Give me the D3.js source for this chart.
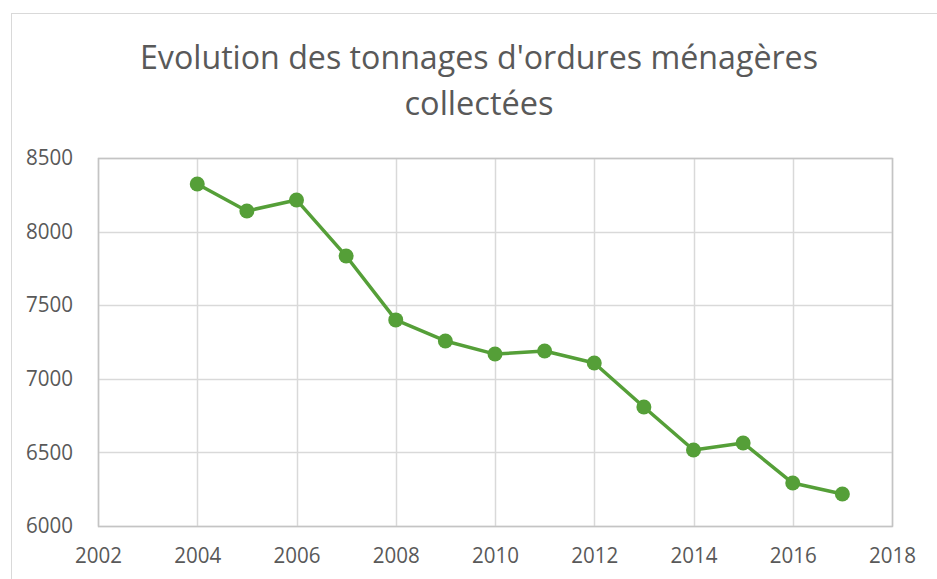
<!DOCTYPE html>
<html>
<head>
<meta charset="utf-8">
<script src="https://cdn.jsdelivr.net/npm/d3@7"></script>
<style>
body { margin: 0; background: #fff; }
text { font-family: "Open Sans", "DejaVu Sans", sans-serif; fill: #595959; }
</style>
</head>
<body>
<svg id="chart" width="937" height="579"></svg>
<script>
var years = [2004, 2005, 2006, 2007, 2008, 2009, 2010, 2011, 2012, 2013, 2014, 2015, 2016, 2017];
var tonnages = [8323, 8140, 8215, 7834, 7400, 7257, 7168, 7189, 7107, 6808, 6516, 6564, 6292, 6217];
var xTicks = [2002, 2004, 2006, 2008, 2010, 2012, 2014, 2016, 2018];
var yTicks = [6000, 6500, 7000, 7500, 8000, 8500];
var titleLines = ["Evolution des tonnages d'ordures ménagères", "collectées"];

var svg = d3.select('#chart');
var plot = {left: 98, top: 158, right: 892, bottom: 526};
var green = '#559f38';

// outer chart frame
svg.append('rect')
	.attr('x', 11.5).attr('y', 13.5)
	.attr('width', 940).attr('height', 580)
	.attr('fill', 'none').attr('stroke', '#d9d9d9');

var x = d3.scaleLinear().domain([2002, 2018]).range([plot.left, plot.right]);
var y = d3.scaleLinear().domain([6000, 8500]).range([plot.bottom, plot.top]);

// gridlines
var grid = svg.append('g').attr('class', 'grid');
grid.selectAll('line.h')
		.data(yTicks)
	.enter()
		.append('line')
		.attr('x1', plot.left).attr('x2', plot.right)
		.attr('y1', function(d) { return Math.round(y(d)) + 0.5; })
		.attr('y2', function(d) { return Math.round(y(d)) + 0.5; })
		.attr('stroke', '#d9d9d9').attr('stroke-width', 1.5);
grid.selectAll('line.v')
		.data(xTicks)
	.enter()
		.append('line')
		.attr('y1', plot.top).attr('y2', plot.bottom)
		.attr('x1', function(d) { return Math.round(x(d)) + 0.5; })
		.attr('x2', function(d) { return Math.round(x(d)) + 0.5; })
		.attr('stroke', '#d9d9d9').attr('stroke-width', 1.5);

// plot area frame
svg.append('rect')
	.attr('x', plot.left + 0.5).attr('y', plot.top + 0.5)
	.attr('width', plot.right - plot.left).attr('height', plot.bottom - plot.top)
	.attr('fill', 'none').attr('stroke', '#c4c4c4').attr('stroke-width', 1.5);

// axes (labels only)
var yAxis = d3.axisLeft(y).tickValues(yTicks).tickSize(0).tickPadding(25).tickFormat(d3.format('d'));
var xAxis = d3.axisBottom(x).tickValues(xTicks).tickSize(0).tickPadding(22).tickFormat(d3.format('d'));

var gy = svg.append('g').attr('transform', 'translate(' + plot.left + ',0)').call(yAxis);
var gx = svg.append('g').attr('transform', 'translate(0,' + plot.bottom + ')').call(xAxis);
[gx, gy].forEach(function(g) {
	g.select('.domain').remove();
	g.selectAll('text')
		.attr('font-family', '"Open Sans", sans-serif')
		.attr('font-size', 21)
		.attr('fill', '#595959')
		.attr('textLength', 47)
		.attr('lengthAdjust', 'spacingAndGlyphs');
});

// series line
var line = d3.line()
	.x(function(d, i) { return x(years[i]); })
	.y(function(d) { return y(d); });

svg.append('path')
	.datum(tonnages)
	.attr('d', line)
	.attr('fill', 'none')
	.attr('stroke', green)
	.attr('stroke-width', 3.5)
	.attr('stroke-linejoin', 'round');

svg.selectAll('circle.pt')
		.data(tonnages)
	.enter()
		.append('circle')
		.attr('class', 'pt')
		.attr('cx', function(d, i) { return x(years[i]); })
		.attr('cy', function(d) { return y(d); })
		.attr('r', 7.5)
		.attr('fill', green);

// title - Calibri Light is narrower than Open Sans, so fit each line to the reference width
var titleWidths = [678, 149];
var titleBase = [69, 115];
svg.append('g').attr('class', 'title')
	.selectAll('text')
		.data(titleLines)
	.enter()
		.append('text')
		.attr('x', 479)
		.attr('y', function(d, i) { return titleBase[i]; })
		.attr('text-anchor', 'middle')
		.attr('font-size', 33)
		.attr('textLength', function(d, i) { return titleWidths[i]; })
		.attr('lengthAdjust', 'spacingAndGlyphs')
		.text(function(d) { return d; });
</script>
</body>
</html>
